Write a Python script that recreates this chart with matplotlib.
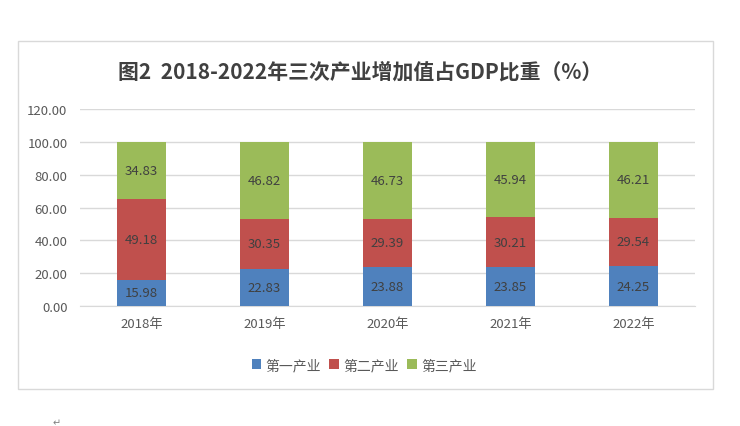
import matplotlib
matplotlib.use("Agg")
import matplotlib.pyplot as plt
from matplotlib.patches import Rectangle
import numpy as np

plt.rcParams['font.family'] = ['Noto Sans CJK SC', 'DejaVu Sans']

# data
years = ['2018年', '2019年', '2020年', '2021年', '2022年']
primary = [15.98, 22.83, 23.88, 23.85, 24.25]
secondary = [49.18, 30.35, 29.39, 30.21, 29.54]
tertiary = [34.83, 46.82, 46.73, 45.94, 46.21]
series_names = ['第一产业', '第二产业', '第三产业']
colors = ['#4F81BD', '#C0504D', '#9BBB59']

W, H = 740, 427
fig = plt.figure(figsize=(W / 100, H / 100), dpi=100)

# outer chart frame
fig.patches.append(Rectangle((18 / W, 1 - 390 / H), (713 - 18) / W, (390 - 42) / H,
                             transform=fig.transFigure, fill=False,
                             edgecolor='#D9D9D9', linewidth=1.0))

ax = fig.add_axes([80 / W, 1 - 307 / H, 615 / W, 197 / H])
x = np.arange(len(years))
bw = 0.4
bottom = np.zeros(len(years))
handles = []
for vals, c, name in zip([primary, secondary, tertiary], colors, series_names):
    b = ax.bar(x, vals, bw, bottom=bottom, color=c, label=name, zorder=3)
    handles.append(b)
    for xi, v, bt in zip(x, vals, bottom):
        ax.text(xi, bt + v / 2, f'{v:.2f}', ha='center', va='center',
                fontsize=9.5, color='#404040', zorder=4)
    bottom += np.array(vals)

ax.set_xlim(-0.5, len(years) - 0.5)
ax.set_ylim(0, 120)
ax.set_yticks(np.arange(0, 121, 20))
ax.set_yticklabels([f'{t:.2f}' for t in np.arange(0, 121, 20)])
ax.set_xticks(x)
ax.set_xticklabels(years)
ax.tick_params(axis='both', length=0, labelsize=9.5, colors='#595959')
ax.tick_params(axis='y', pad=9)
ax.tick_params(axis='x', pad=8)
ax.grid(axis='y', color='#D9D9D9', linewidth=1.0, zorder=0)
for s in ['top', 'right', 'left']:
    ax.spines[s].set_visible(False)
ax.spines['bottom'].set_color('#D9D9D9')

fig.text(360 / W, 1 - 72 / H, '图2  2018-2022年三次产业增加值占GDP比重（%）',
         ha='center', va='center', fontsize=15, fontweight='bold', color='#404040')

fig.legend(handles=handles, labels=series_names, loc='center',
           bbox_to_anchor=(364 / W, 1 - 366 / H), ncol=3, frameon=False,
           fontsize=10, handlelength=0.7, handleheight=0.7, handletextpad=0.3,
           columnspacing=0.6, labelcolor='#595959')

fig.text(57 / W, 1 - 423 / H, '↵', ha='center', va='center', fontsize=7, color='#808080')

fig.savefig('out.png', dpi=100)
